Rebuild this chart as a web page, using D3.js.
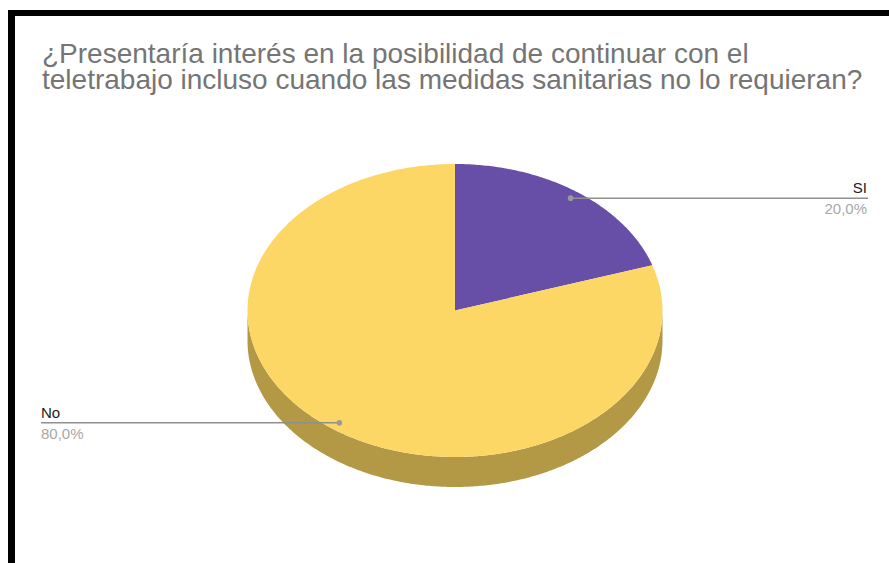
<!DOCTYPE html>
<html><head><meta charset="utf-8">
<script src="https://cdn.jsdelivr.net/npm/d3@7"></script>
<style>html,body{margin:0;padding:0;background:#fff;}svg{display:block;}</style>
</head><body>
<svg id="c" width="889" height="563"></svg>
<script>
const titleLines = ["¿Presentaría interés en la posibilidad de continuar con el",
                    "teletrabajo incluso cuando las medidas sanitarias no lo requieran?"];
const categories = ["SI", "No"];
const values = [20, 80];
const colors = ["#674ea7", "#fcd766"];
const sideColors = ["#4d3a7d", "#b39845"];

const W = 889, H = 563;
const svg = d3.select("#c");
svg.append("rect").attr("width", W).attr("height", H).attr("fill", "#fff");

// frame
svg.append("rect").attr("x", 8).attr("y", 10).attr("width", 7).attr("height", H - 10).attr("fill", "#000");
svg.append("rect").attr("x", 8).attr("y", 10).attr("width", W - 8).attr("height", 6).attr("fill", "#000");

// title
const title = svg.append("text").attr("font-family", "Liberation Sans, Arial, sans-serif")
  .attr("font-size", 28).attr("fill", "#757575");
titleLines.forEach((t, i) => {
  title.append("tspan").attr("x", 42).attr("y", 63 + i * 26).text(t);
});

// pie geometry
const cx = 455, cy = 310.5, rx = 207.5, ry = 146.5, depth = 30;
const pie = d3.pie().sort(null).value(d => d)(values);
const pt = (a, dy = 0) => [cx + rx * Math.sin(a), cy - ry * Math.cos(a) + dy];
const arcPts = (a0, a1, dy = 0) => {
  const n = Math.max(2, Math.ceil((a1 - a0) / 0.01));
  return d3.range(n + 1).map(i => pt(a0 + (a1 - a0) * i / n, dy));
};
const line = d3.line();

const g = svg.append("g");
// sides (front half only: angles between PI/2 and 3PI/2)
pie.forEach((s, i) => {
  const a0 = Math.max(s.startAngle, Math.PI / 2), a1 = Math.min(s.endAngle, 3 * Math.PI / 2);
  if (a1 <= a0) return;
  const top = arcPts(a0, a1, 0);
  const bot = arcPts(a0, a1, depth).reverse();
  g.append("path").attr("d", line(top.concat(bot)) + "Z").attr("fill", sideColors[i]);
});
// tops
pie.forEach((s, i) => {
  const pts = [[cx, cy]].concat(arcPts(s.startAngle, s.endAngle));
  g.append("path").attr("d", line(pts) + "Z").attr("fill", colors[i]);
});

// labels
const fmt = v => d3.format(".1f")(v).replace(".", ",") + "%";
const total = d3.sum(values);
pie.forEach((s, i) => {
  const mid = (s.startAngle + s.endAngle) / 2;
  const k = 0.948;
  const dx = cx + rx * k * Math.sin(mid), dy = cy - ry * k * Math.cos(mid);
  const right = Math.sin(mid) > 0;
  const xEnd = right ? 868 : 41;
  g.append("line").attr("x1", dx).attr("y1", dy).attr("x2", xEnd).attr("y2", dy)
    .attr("stroke", "#8f8f8f").attr("stroke-width", 1.5);
  g.append("circle").attr("cx", dx).attr("cy", dy).attr("r", 2.8).attr("fill", "#9a9a9a");
  const anchor = right ? "end" : "start";
  const tx = right ? 867 : 41;
  g.append("text").attr("x", tx).attr("y", dy - 5).attr("text-anchor", anchor)
    .attr("font-family", "Liberation Sans, Arial, sans-serif").attr("font-size", 15)
    .attr("fill", "#222").text(categories[i]);
  g.append("text").attr("x", tx).attr("y", dy + 16).attr("text-anchor", anchor)
    .attr("font-family", "Liberation Sans, Arial, sans-serif").attr("font-size", 15)
    .attr("fill", "#a8a8a8").text(fmt(values[i] / total * 100));
});
</script>
</body></html>
